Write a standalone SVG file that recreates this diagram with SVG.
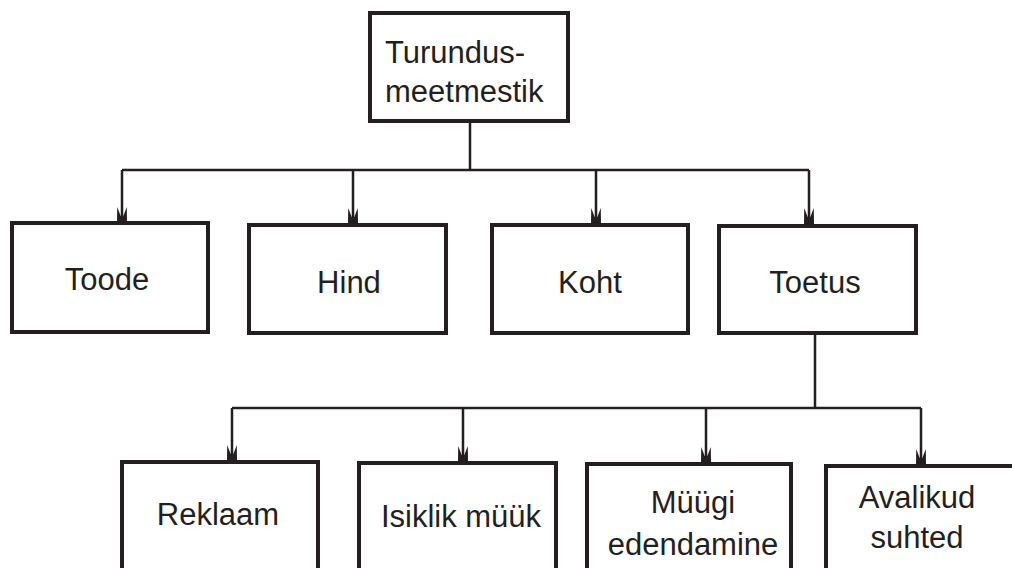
<svg xmlns="http://www.w3.org/2000/svg" width="1012" height="568" viewBox="0 0 1012 568">
  <style>
    .box { fill: #ffffff; stroke: #231f20; stroke-width: 4; }
    .lbl { font-family: "Liberation Sans", Arial, sans-serif; font-size: 31px; fill: #231f20; text-anchor: middle; }
    .wire { fill: none; stroke: #231f20; stroke-width: 2.5; }
    .head { fill: #231f20; }
  </style>
  <defs>
    <!-- barbed dart arrowhead, tip at origin pointing down -->
    <path id="dart" d="M0,0 L-5,-9 L-4.8,-25 L-1.3,-16 L1.3,-16 L4.8,-25 L5,-9 Z"/>
  </defs>

  <rect width="1012" height="568" fill="#ffffff"/>

  <!-- connectors -->
  <g id="connectors">
    <path class="wire" d="M470,121 V170 M122,170 H809 M122,170 V220 M353,170 V222 M596,170 V222 M809,170 V223"/>
    <path class="wire" d="M815,333 V408 M232,408 H921 M232,408 V459 M463,408 V460 M706,408 V461 M921,408 V463"/>
    <use href="#dart" class="head" x="122" y="232"/>
    <use href="#dart" class="head" x="353" y="233"/>
    <use href="#dart" class="head" x="596" y="233"/>
    <use href="#dart" class="head" x="809" y="233"/>
    <use href="#dart" class="head" x="232" y="470"/>
    <use href="#dart" class="head" x="463" y="471"/>
    <use href="#dart" class="head" x="706" y="472"/>
    <use href="#dart" class="head" x="921" y="474"/>
  </g>

  <!-- root -->
  <g id="turundusmeetmestik">
    <rect class="box" x="370" y="13" width="198" height="108"/>
    <text class="lbl" x="385" y="63" style="text-anchor:start">Turundus-</text>
    <text class="lbl" x="385" y="102" style="text-anchor:start">meetmestik</text>
  </g>

  <!-- first level -->
  <g id="toode">
    <rect class="box" x="12" y="223" width="196" height="109"/>
    <text class="lbl" x="107" y="290">Toode</text>
  </g>
  <g id="hind">
    <rect class="box" x="249" y="225" width="197" height="108"/>
    <text class="lbl" x="349" y="293">Hind</text>
  </g>
  <g id="koht">
    <rect class="box" x="492" y="225" width="196" height="108"/>
    <text class="lbl" x="590" y="293">Koht</text>
  </g>
  <g id="toetus">
    <rect class="box" x="719" y="226" width="197" height="107"/>
    <text class="lbl" x="815" y="293">Toetus</text>
  </g>

  <!-- second level -->
  <g id="reklaam">
    <rect class="box" x="122" y="462" width="196" height="140"/>
    <text class="lbl" x="218" y="525">Reklaam</text>
  </g>
  <g id="isiklik-muuk">
    <rect class="box" x="359" y="463" width="197" height="140"/>
    <text class="lbl" x="461" y="527">Isiklik müük</text>
  </g>
  <g id="muugi-edendamine">
    <rect class="box" x="587" y="464" width="204" height="140"/>
    <text class="lbl" x="693" y="513">Müügi</text>
    <text class="lbl" x="693" y="555">edendamine</text>
  </g>
  <g id="avalikud-suhted">
    <rect class="box" x="826" y="466" width="220" height="140"/>
    <text class="lbl" x="917" y="508">Avalikud</text>
    <text class="lbl" x="917" y="548">suhted</text>
  </g>
</svg>
